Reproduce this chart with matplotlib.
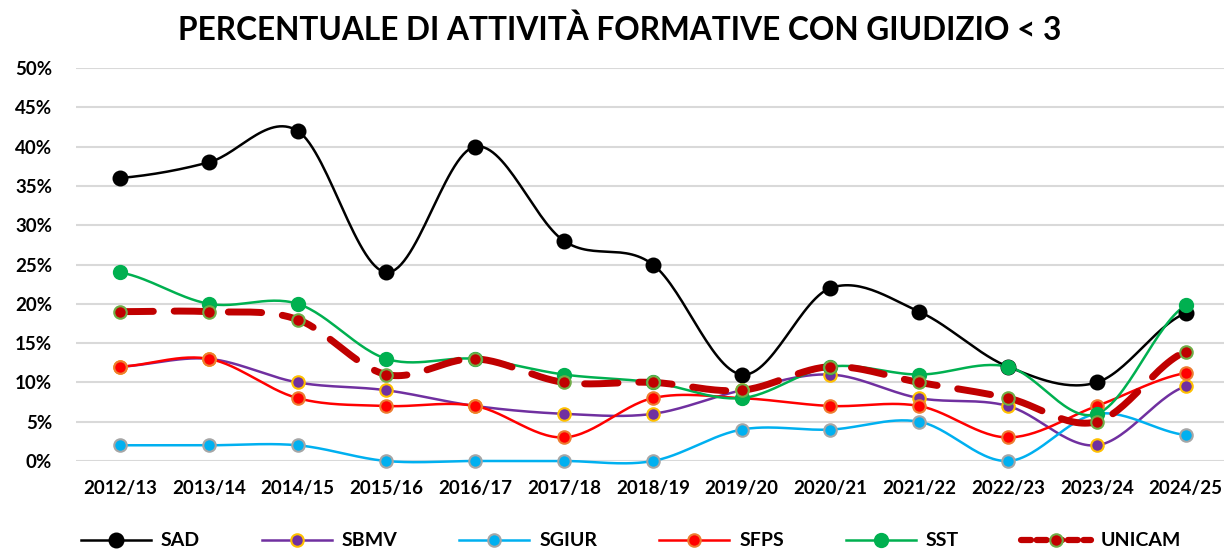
import numpy as np
import matplotlib
matplotlib.use("Agg")
import matplotlib.pyplot as plt
from matplotlib.ticker import PercentFormatter
from matplotlib.lines import Line2D

# --- data (percent) ---
years = ["2012/13", "2013/14", "2014/15", "2015/16", "2016/17", "2017/18", "2018/19",
         "2019/20", "2020/21", "2021/22", "2022/23", "2023/24", "2024/25"]
sad = [36, 38, 42, 24, 40, 28, 25, 11, 22, 19, 12, 10, 18.8]
sbmv = [12, 13, 10, 9, 7, 6, 6, 9, 11, 8, 7, 2, 9.5]
sgiur = [2, 2, 2, 0, 0, 0, 0, 4, 4, 5, 0, 6, 3.3]
sfps = [12, 13, 8, 7, 7, 3, 8, 8, 7, 7, 3, 7, 11.2]
sst = [24, 20, 20, 13, 13, 11, 10, 8, 12, 11, 12, 6, 19.8]
unicam = [19, 19, 18, 11, 13, 10, 10, 9, 12, 10, 8, 5, 13.9]

plt.rcParams['font.family'] = ['Lato', 'DejaVu Sans']


def smooth(y, n=30):
    # catmull-rom through the points, like excel's smoothed line
    y = np.asarray(y, dtype=float)
    x = np.arange(len(y), dtype=float)
    p = np.concatenate([[y[0]], y, [y[-1]]])
    xs, ys = [], []
    t = np.linspace(0, 1, n, endpoint=False)
    for i in range(len(y) - 1):
        p0, p1, p2, p3 = p[i], p[i + 1], p[i + 2], p[i + 3]
        c1 = p1 + (p2 - p0) / 6
        c2 = p2 - (p3 - p1) / 6
        yy = (1 - t) ** 3 * p1 + 3 * (1 - t) ** 2 * t * c1 + 3 * (1 - t) * t ** 2 * c2 + t ** 3 * p2
        xs.append(x[i] + t)
        ys.append(yy)
    xs.append([x[-1]])
    ys.append([y[-1]])
    return np.concatenate(xs), np.concatenate(ys)


series = [
    ("SAD", sad, dict(color="black", lw=1.8, mfc="black", mec="black", ms=10, ls="-")),
    ("SBMV", sbmv, dict(color="#7030A0", lw=1.8, mfc="#7030A0", mec="#FFC000", ms=9, ls="-")),
    ("SGIUR", sgiur, dict(color="#00B0F0", lw=1.8, mfc="#00B0F0", mec="#A6A6A6", ms=9, ls="-")),
    ("SFPS", sfps, dict(color="#FF0000", lw=1.8, mfc="#FF0000", mec="#ED7D31", ms=9, ls="-")),
    ("SST", sst, dict(color="#00B050", lw=1.8, mfc="#00B050", mec="#00B050", ms=9.5, ls="-")),
    ("UNICAM", unicam, dict(color="#C00000", lw=5, mfc="#C00000", mec="#70AD47", ms=9, ls=(0, (4.8, 3)))),
]

fig = plt.figure(figsize=(12.24, 5.51), dpi=100)
ax = fig.add_axes([75.6 / 1224, 1 - 461 / 551, (1224 - 75.6) / 1224, (461 - 68) / 551])

x = np.arange(len(years))
handles = []
for name, vals, st in series:
    xs, ys = smooth(vals)
    ax.plot(xs, ys, color=st["color"], lw=st["lw"], ls=st["ls"], solid_capstyle="round",
            dash_capstyle="butt" if name != "UNICAM" else "round", zorder=3, clip_on=False)
    ax.plot(x, vals, ls="none", marker="o", ms=st["ms"], mfc=st["mfc"], mec=st["mec"],
            mew=1.5, zorder=4, clip_on=False)
    handles.append(Line2D([], [], color=st["color"], lw=st["lw"] if name != "UNICAM" else 4.5,
                          ls=st["ls"] if name != "UNICAM" else (0, (1.6, 0.9)),
                          marker="o", ms=st["ms"], mfc=st["mfc"], mec=st["mec"], mew=1.5,
                          dash_capstyle="round"))

ax.set_xlim(-0.5, (1224 - 120) / 88.8)
ax.set_ylim(0, 50)
ax.set_yticks(np.arange(0, 51, 5))
ax.yaxis.set_major_formatter(PercentFormatter(decimals=0))
ax.set_xticks(x)
ax.set_xticklabels(years)
ax.tick_params(axis="both", length=0, labelsize=13.5)
ax.tick_params(axis="y", pad=17)
ax.tick_params(axis="x", pad=14)
for lab in ax.get_xticklabels() + ax.get_yticklabels():
    lab.set_fontweight("bold")
ax.grid(axis="y", color="#D9D9D9", lw=1.5)
ax.set_axisbelow(True)
for s in ax.spines.values():
    s.set_visible(False)

fig.text(620 / 1224, 1 - 30 / 551, "PERCENTUALE DI ATTIVITÀ FORMATIVE CON GIUDIZIO < 3",
         ha="center", va="center", fontsize=22.8, fontweight="bold")

fig.legend(handles, [s[0] for s in series], loc="center", ncol=6,
           bbox_to_anchor=(631 / 1224, 1 - 541 / 551), frameon=False,
           prop=dict(size=14, weight="bold"), handlelength=3.6, handletextpad=0.5,
           columnspacing=3.2)

fig.savefig("out.png", dpi=100)
